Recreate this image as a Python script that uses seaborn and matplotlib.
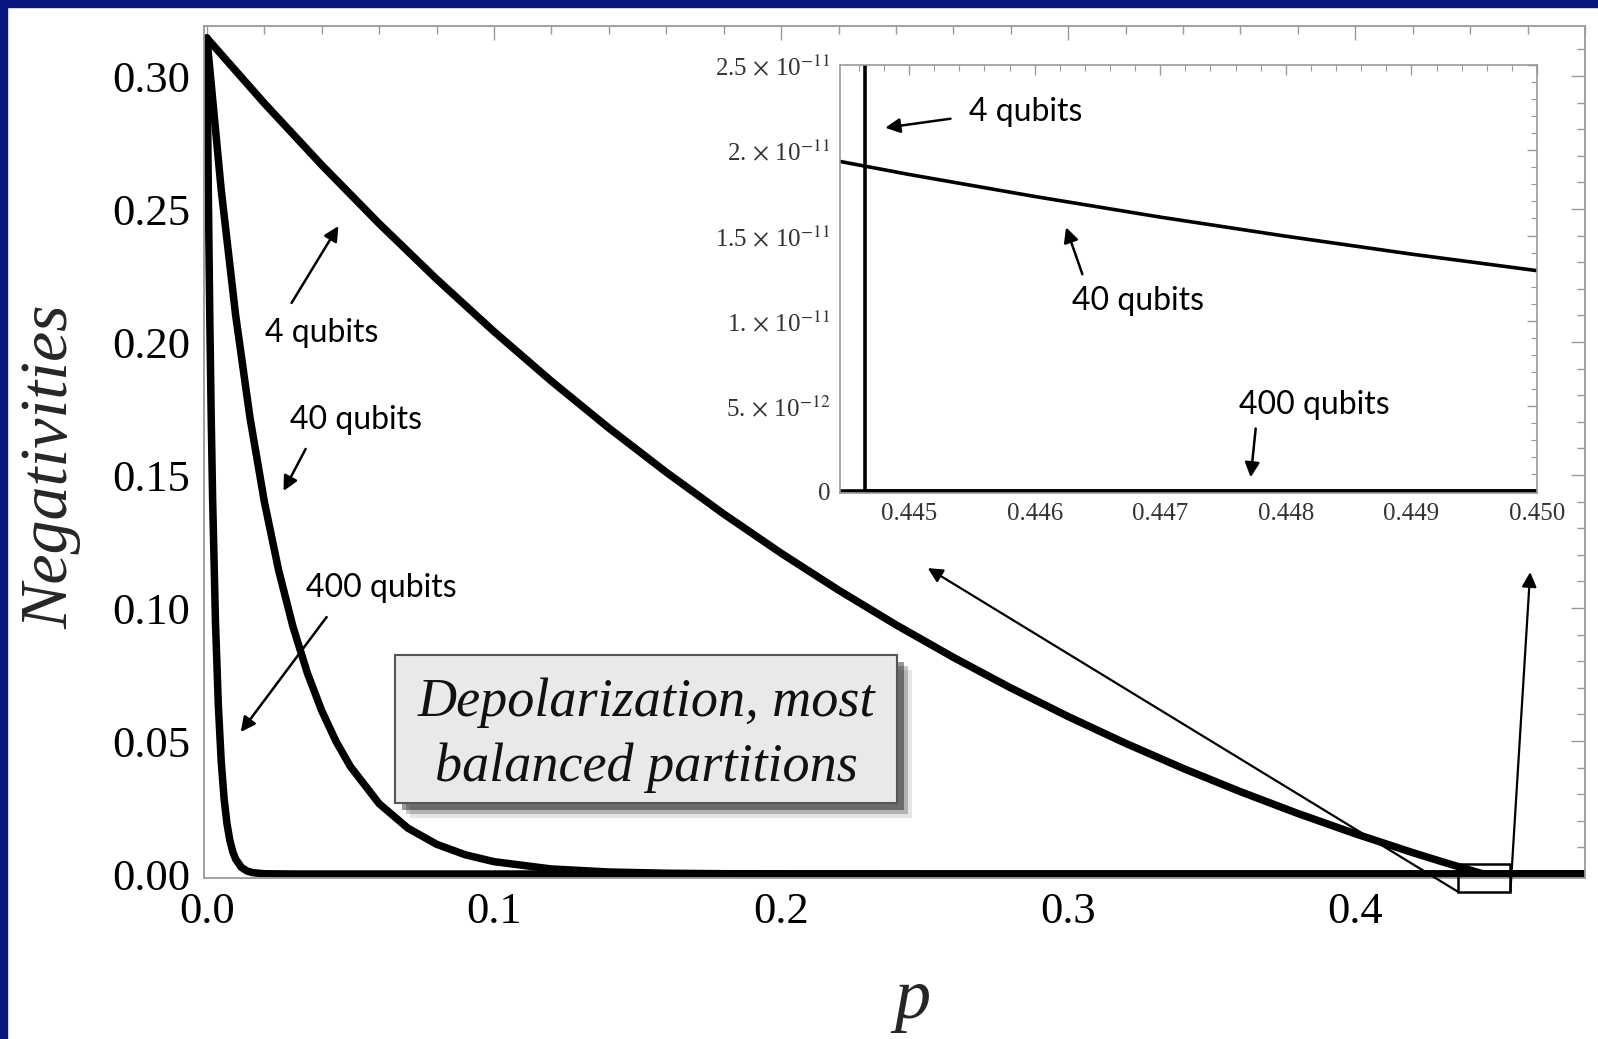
import matplotlib
matplotlib.use("Agg")
import matplotlib.pyplot as plt
import matplotlib.patheffects as pe
from matplotlib.patches import Rectangle
from matplotlib.ticker import FixedLocator, FixedFormatter, MultipleLocator
import pandas as pd
import seaborn as sns

# ---------------- data ----------------
p_4 = [0.0, 0.02, 0.04, 0.06, 0.08, 0.10, 0.12, 0.14, 0.16, 0.18, 0.20, 0.22, 0.24,
       0.26, 0.28, 0.30, 0.32, 0.34, 0.36, 0.38, 0.40, 0.42, 0.43, 0.44, 0.444,
       0.4445, 0.44465, 0.45, 0.48]
neg_4 = [0.31427, 0.28978, 0.26654, 0.24452, 0.22367, 0.20394, 0.18529, 0.16767,
         0.15105, 0.13538, 0.12062, 0.10674, 0.09370, 0.08145, 0.06996, 0.05920,
         0.04913, 0.03972, 0.03094, 0.02275, 0.01513, 0.00804, 0.00469, 0.00146,
         0.000202, 0.000046, 0.0, 0.0, 0.0]

p_40 = [0.0, 0.005, 0.01, 0.015, 0.02, 0.025, 0.03, 0.035, 0.04, 0.045, 0.05, 0.06,
        0.07, 0.08, 0.09, 0.10, 0.12, 0.14, 0.16, 0.18, 0.20, 0.25, 0.30, 0.35, 0.40,
        0.444, 0.445, 0.446, 0.447, 0.448, 0.449, 0.450, 0.48]
neg_40 = [0.31427, 0.25717, 0.21024, 0.17169, 0.14007, 0.11415, 0.09293, 0.07557,
          0.06140, 0.04983, 0.04039, 0.02645, 0.01725, 0.01119, 0.00723, 0.004645,
          0.001891, 0.000754, 0.000294, 0.000112, 4.18e-5, 3.2e-6, 2.0e-7, 1.03e-8,
          4.2e-10, 1.997e-11, 1.858e-11, 1.729e-11, 1.608e-11, 1.496e-11, 1.391e-11,
          1.294e-11, 1.37e-12]

p_400 = [0.0, 0.00025, 0.0005, 0.001, 0.0015, 0.002, 0.003, 0.004, 0.005, 0.006,
         0.007, 0.008, 0.009, 0.010, 0.012, 0.014, 0.016, 0.02, 0.03, 0.04, 0.06,
         0.10, 0.48]
neg_400 = [0.31427, 0.28436, 0.25729, 0.21062, 0.17240, 0.14110, 0.09449, 0.06325,
           0.04232, 0.02830, 0.01893, 0.01265, 0.00845, 0.00564, 0.002513, 0.001117,
           0.000496, 0.0000972, 1.6e-6, 2.5e-8, 5.6e-12, 1.6e-19, 0.0]

series_names = ["4 qubits", "40 qubits", "400 qubits"]

main_xticks = [0.0, 0.1, 0.2, 0.3, 0.4]
main_xticklabels = ["0.0", "0.1", "0.2", "0.3", "0.4"]
main_yticks = [0.00, 0.05, 0.10, 0.15, 0.20, 0.25, 0.30]
main_yticklabels = ["0.00", "0.05", "0.10", "0.15", "0.20", "0.25", "0.30"]

inset_xticks = [0.445, 0.446, 0.447, 0.448, 0.449, 0.450]
inset_xticklabels = ["0.445", "0.446", "0.447", "0.448", "0.449", "0.450"]
inset_yticks = [0.0, 5e-12, 1e-11, 1.5e-11, 2e-11, 2.5e-11]
inset_yticklabels = ["0", r"5.$\,\times\,$10$^{-12}$", r"1.$\,\times\,$10$^{-11}$",
                     r"1.5$\,\times\,$10$^{-11}$", r"2.$\,\times\,$10$^{-11}$",
                     r"2.5$\,\times\,$10$^{-11}$"]

# ---------------- styling ----------------
sns.set_theme(style="white")
plt.rcParams["font.family"] = ["Liberation Serif", "DejaVu Serif"]
plt.rcParams["mathtext.fontset"] = "stix"

df = pd.concat([
    pd.DataFrame({"p": p_4, "neg": neg_4, "series": series_names[0]}),
    pd.DataFrame({"p": p_40, "neg": neg_40, "series": series_names[1]}),
    pd.DataFrame({"p": p_400, "neg": neg_400, "series": series_names[2]}),
], ignore_index=True)

W, H = 1598, 1039
fig = plt.figure(figsize=(W / 100, H / 100), dpi=100)
fig.patch.set_facecolor("white")
border = "#0a1680"
fig.patches.append(Rectangle((0, 1 - 7 / H), 1, 7 / H, transform=fig.transFigure,
                             color=border, zorder=0))
fig.patches.append(Rectangle((0, 0), 7 / W, 1, transform=fig.transFigure,
                             color=border, zorder=0))

frame_col = "#999999"

# ---------------- main axes ----------------
ax = fig.add_axes([204 / W, 1 - 878 / H, 1381 / W, 852.5 / H])
ax.set_facecolor("white")
for name in series_names:
    d = df[df["series"] == name]
    sns.lineplot(data=d, x="p", y="neg", ax=ax, color="black", lw=5.4,
                 estimator=None, sort=False, legend=False,
                 solid_joinstyle="round", solid_capstyle="round")
ax.set_xlim(-0.001, 0.48)
ax.set_ylim(-0.0015, 0.319)
ax.xaxis.set_major_locator(FixedLocator(main_xticks))
ax.xaxis.set_major_formatter(FixedFormatter(main_xticklabels))
ax.xaxis.set_minor_locator(MultipleLocator(0.02))
ax.yaxis.set_major_locator(FixedLocator(main_yticks))
ax.yaxis.set_major_formatter(FixedFormatter(main_yticklabels))
ax.yaxis.set_minor_locator(MultipleLocator(0.01))
ax.tick_params(which="both", direction="in", top=True, right=True,
               color=frame_col, labelcolor="black", labelsize=32, pad=10)
ax.tick_params(which="major", length=10, width=1.0)
ax.tick_params(which="minor", length=5.5, width=1.0)
for s in ax.spines.values():
    s.set_color(frame_col)
    s.set_linewidth(1.3)

ax.set_xlabel("p", fontsize=52, style="italic")
ax.xaxis.set_label_coords(0.5127, -0.106)
ax.set_ylabel("Negativities", fontsize=49, style="italic")
ax.yaxis.set_label_coords(-0.089, 0.483)

lab_font = dict(family=["Lato", "DejaVu Sans"], fontsize=23, color="black",
                ha="center", va="center")
arrow_kw = dict(arrowstyle="-|>", color="black", lw=1.8, mutation_scale=22,
                shrinkA=0, shrinkB=0)
ax.text(0.0399, 0.2034, "4 qubits", **lab_font)
ax.text(0.0518, 0.1707, "40 qubits", **lab_font)
ax.text(0.0608, 0.1075, "400 qubits", **lab_font)
ax.annotate("", xy=(0.0458, 0.2436), xytext=(0.0295, 0.2147), arrowprops=arrow_kw)
ax.annotate("", xy=(0.0267, 0.1440), xytext=(0.0344, 0.1598), arrowprops=arrow_kw)
ax.annotate("", xy=(0.0118, 0.0534), xytext=(0.0417, 0.0966), arrowprops=arrow_kw)

# zoom rectangle and arrows to inset
ax.add_patch(Rectangle((0.4359, -0.00677), 0.0181, 0.01053, fill=False,
                       ec="black", lw=1.8, clip_on=False, zorder=5))
thin_kw = dict(arrowstyle="-|>", color="black", lw=1.6, mutation_scale=22,
               shrinkA=0, shrinkB=0)
ax.annotate("", xy=(0.2511, 0.1150), xytext=(0.4359, -0.00677),
            arrowprops=thin_kw, annotation_clip=False)
ax.annotate("", xy=(0.4609, 0.1135), xytext=(0.4540, -0.00677),
            arrowprops=thin_kw, annotation_clip=False)

# caption box
box = Rectangle((395 / W, 1 - 803 / H), 502 / W, 148 / H, transform=fig.transFigure,
                facecolor="#e9e9e9", edgecolor="#555555", lw=1.5, zorder=6)
box.set_path_effects([
    pe.SimplePatchShadow(offset=(11, -11), shadow_rgbFace="black", alpha=0.1),
    pe.SimplePatchShadow(offset=(8, -8), shadow_rgbFace="black", alpha=0.22),
    pe.SimplePatchShadow(offset=(5, -5), shadow_rgbFace="black", alpha=0.4),
    pe.Normal()])
fig.patches.append(box)
fig.text(646 / W, 1 - 735 / H, "Depolarization, most\nbalanced partitions",
         ha="center", va="center", style="italic", fontsize=39,
         linespacing=1.38, color="#111111", zorder=7)

# ---------------- inset ----------------
axi = fig.add_axes([840 / W, 1 - 493 / H, 697 / W, 428 / H], zorder=4)
axi.set_facecolor("white")
for name in series_names:
    d = df[df["series"] == name]
    sns.lineplot(data=d, x="p", y="neg", ax=axi, color="black", lw=2.6,
                 estimator=None, sort=False, legend=False)
axi.set_xlim(0.44445, 0.4500)
axi.set_ylim(-1e-13, 2.5e-11)
axi.set_xlabel("")
axi.set_ylabel("")
axi.xaxis.set_major_locator(FixedLocator(inset_xticks))
axi.xaxis.set_major_formatter(FixedFormatter(inset_xticklabels))
axi.xaxis.set_minor_locator(MultipleLocator(0.0002))
axi.yaxis.set_major_locator(FixedLocator(inset_yticks))
axi.yaxis.set_major_formatter(FixedFormatter(inset_yticklabels))
axi.yaxis.set_minor_locator(MultipleLocator(1e-12))
axi.tick_params(which="both", direction="in", top=True, right=True,
                color=frame_col, labelcolor="#333333", labelsize=18, pad=7)
axi.tick_params(which="major", length=7, width=1.0)
axi.tick_params(which="minor", length=4, width=0.8)
for s in axi.spines.values():
    s.set_color(frame_col)
    s.set_linewidth(1.2)

axi.text(0.44593, 2.225e-11, "4 qubits", **lab_font)
axi.text(0.44682, 1.116e-11, "40 qubits", **lab_font)
axi.text(0.44823, 5.08e-12, "400 qubits", **lab_font)
axi.annotate("", xy=(0.44481, 2.132e-11), xytext=(0.44533, 2.185e-11), arrowprops=arrow_kw)
axi.annotate("", xy=(0.44625, 1.548e-11), xytext=(0.44638, 1.273e-11), arrowprops=arrow_kw)
axi.annotate("", xy=(0.44772, 8.2e-13), xytext=(0.44776, 3.68e-12), arrowprops=arrow_kw)

fig.savefig("out.png", dpi=100, facecolor=fig.get_facecolor())
